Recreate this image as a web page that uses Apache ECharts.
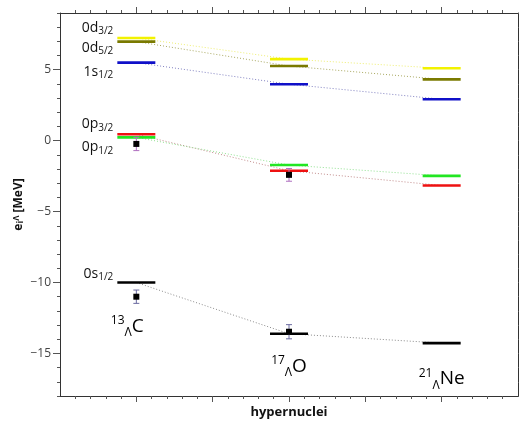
<!DOCTYPE html>
<html><head><meta charset="utf-8">
<script src="https://cdn.jsdelivr.net/npm/echarts@6/dist/echarts.min.js"></script>
<style>html,body{margin:0;padding:0;background:#fff}#c{width:519px;height:421px}</style>
</head><body><div id="c"></div>
<script>
// ---- data ----
const nucleusX = [1, 3, 5];
const nucleusMass = ['13', '17', '21'];
const nucleusElem = ['C', 'O', 'Ne'];
const levelNames = ['0d3/2', '0d5/2', '1s1/2', '0p3/2', '0p1/2', '0s1/2'];
const level_0d32 = [7.24, 5.75, 5.10];
const level_0d52 = [6.98, 5.26, 4.32];
const level_1s12 = [5.50, 3.98, 2.92];
const level_0p32 = [0.45, -2.12, -3.16];
const level_0p12 = [0.23, -1.72, -2.48];
const level_0s12 = [-10.0, -13.61, -14.27];
const expX = [1, 1, 3, 3];
const expE = [-0.23, -11.0, -2.41, -13.47];
const expErr = [0.47, 0.47, 0.45, 0.5];
const expState = ['p', 's', 'p', 's'];
const yMajorTicks = [-15, -10, -5, 0, 5];

// ---- styles ----
const FONT = 'Open Sans';
const levelSeries = [level_0d32, level_0d52, level_1s12, level_0p32, level_0p12, level_0s12];
const levelColors = ['#f2f200', '#7a7a00', '#1010c8', '#ee1111', '#22e622', '#000000'];
const dotColors = ['#eeee70', '#a8a860', '#8080c0', '#c08a8a', '#90e090', '#8a8a8a'];
const labelOffsets = [[0, -10], [0, 6], [0, 9], [0, -10], [0, 10], [0, -9]];
const nucleusLabelOffsets = [[-9, 44], [0, 33], [0, 36]];
const errColors = {p: '#b070c0', s: '#6a6aa0'};

const yMinor = [];
for (let v = -18; v <= 9; v++) if (!yMajorTicks.includes(v)) yMinor.push(v);
const xMajor = [1, 2, 3, 4, 5];
const xMinor = [];
for (let i = 1; i < 30; i++) { if (i % 5 !== 0) xMinor.push(+(i * 0.2).toFixed(1)); }

function xAx(pos, vals, len, showLine, extra) {
  return Object.assign({
    type: 'value', position: pos, min: 0, max: 6,
    axisLine: {show: showLine, onZero: false, lineStyle: {color: '#333', width: 1}},
    axisTick: {show: true, inside: false, length: len, customValues: vals, lineStyle: {color: '#555'}},
    axisLabel: {show: false}, splitLine: {show: false}
  }, extra || {});
}
function yAx(pos, vals, len, showLine, extra) {
  return Object.assign({
    type: 'value', position: pos, min: -18, max: 9,
    axisLine: {show: showLine, onZero: false, lineStyle: {color: '#333', width: 1}},
    axisTick: {show: true, inside: false, length: len, customValues: vals, lineStyle: {color: '#555'}},
    axisLabel: {show: false}, splitLine: {show: false}
  }, extra || {});
}

const series = [];
// dotted connectors
levelSeries.forEach((arr, k) => {
  series.push({
    type: 'line', z: 1, silent: true, symbol: 'none',
    data: nucleusX.map((x, i) => [x, arr[i]]),
    lineStyle: {color: dotColors[k], width: 1, type: [1, 2]}
  });
});
// level bars
levelSeries.forEach((arr, k) => {
  const nm = levelNames[k];
  series.push({
    type: 'scatter', z: 3, silent: true, symbol: 'rect', symbolSize: [38, 2.6],
    itemStyle: {color: levelColors[k], opacity: 1},
    data: nucleusX.map((x, i) => {
      const item = {value: [x, arr[i]]};
      if (i === 0) {
        item.label = {
          show: true, position: 'left', distance: 4, offset: labelOffsets[k], color: '#111', opacity: 1,
          formatter: '{m|' + nm.slice(0, 2) + '}{s|' + nm.slice(2) + '}',
          rich: {
            m: {fontSize: 14, fontFamily: FONT, color: '#111', lineHeight: 17},
            s: {fontSize: 10, fontFamily: FONT, color: '#111', verticalAlign: 'bottom', lineHeight: 12}
          }
        };
      }
      return item;
    })
  });
});
// nucleus names
series.push({
  type: 'scatter', z: 5, silent: true, symbolSize: 0,
  itemStyle: {opacity: 1},
  data: nucleusX.map((x, i) => ({
    value: [x, level_0s12[i]],
    label: {
      show: true, position: 'inside', offset: nucleusLabelOffsets[i], color: '#000', opacity: 1,
      formatter: '{u|' + nucleusMass[i] + '}{d|Λ}{b|' + nucleusElem[i] + '}',
      rich: {
        u: {fontSize: 12, fontFamily: FONT, color: '#000', verticalAlign: 'top', lineHeight: 24},
        d: {fontSize: 12, fontFamily: FONT, color: '#000', verticalAlign: 'bottom', lineHeight: 14},
        b: {fontSize: 19, fontFamily: FONT, color: '#000', lineHeight: 22}
      }
    }
  }))
});
// error bars
series.push({
  type: 'custom', z: 4, silent: true,
  data: expX.map((x, i) => [x, expE[i] - expErr[i], expE[i] + expErr[i], i]),
  renderItem: function (params, api) {
    const x = api.value(0);
    const lo = api.coord([x, api.value(1)]);
    const hi = api.coord([x, api.value(2)]);
    const col = errColors[expState[api.value(3)]];
    const st = {stroke: col, lineWidth: 1};
    return {type: 'group', children: [
      {type: 'line', shape: {x1: lo[0], y1: lo[1], x2: hi[0], y2: hi[1]}, style: st},
      {type: 'line', shape: {x1: lo[0] - 3, y1: lo[1], x2: lo[0] + 3, y2: lo[1]}, style: st},
      {type: 'line', shape: {x1: hi[0] - 3, y1: hi[1], x2: hi[0] + 3, y2: hi[1]}, style: st}
    ]};
  }
});
series.push({
  type: 'scatter', z: 6, silent: true, symbol: 'rect', symbolSize: 6,
  itemStyle: {color: '#000', opacity: 1},
  data: expX.map((x, i) => [x, expE[i]])
});

const chart = echarts.init(document.getElementById('c'), null, {renderer: 'canvas'});
chart.setOption({
  animation: false,
  grid: {left: 60, top: 13, right: 1, bottom: 25, containLabel: false, outerBoundsMode: 'none'},
  xAxis: [
    xAx('bottom', xMajor, 6, true, {
      name: 'hypernuclei', nameLocation: 'middle', nameGap: 10, nameMoveOverlap: false,
      nameTextStyle: {fontFamily: FONT, fontWeight: 'bold', fontSize: 13, color: '#111'}
    }),
    xAx('bottom', xMinor, 3, false),
    xAx('top', xMajor, 6, true),
    xAx('top', xMinor, 3, false)
  ],
  yAxis: [
    yAx('left', yMajorTicks, 7, true, {
      axisLabel: {show: true, customValues: yMajorTicks, fontFamily: FONT, fontSize: 12, color: '#444', margin: 9,
        formatter: v => String(v).replace('-', '\u2212')},
      name: '{b|e}{i|i}{l|Λ}{b| [MeV]}', nameLocation: 'middle', nameGap: 35, nameRotate: 90, nameMoveOverlap: false,
      nameTextStyle: {rich: {
        b: {fontFamily: FONT, fontWeight: 'bold', fontSize: 12, color: '#111'},
        i: {fontFamily: FONT, fontWeight: 'bold', fontSize: 9, color: '#111', verticalAlign: 'bottom'},
        l: {fontFamily: FONT, fontWeight: 'bold', fontSize: 8, color: '#111', verticalAlign: 'top'}
      }}
    }),
    yAx('left', yMinor, 3, false),
    yAx('right', yMajorTicks, 7, true),
    yAx('right', yMinor, 3, false)
  ],
  series: series
});
</script></body></html>
